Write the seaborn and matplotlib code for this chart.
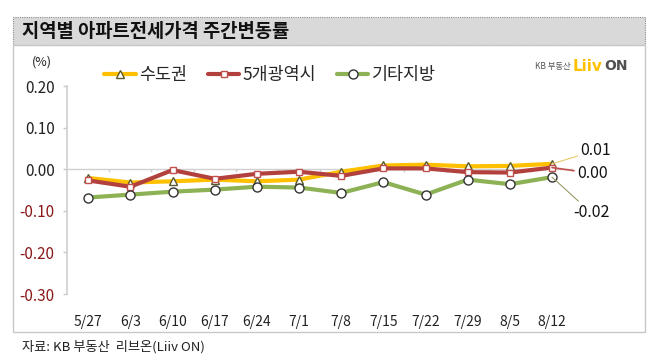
import matplotlib
matplotlib.use("Agg")
import matplotlib.pyplot as plt
from matplotlib.patches import Rectangle
import seaborn as sns
import pandas as pd

# 데이터
weeks = ["5/27", "6/3", "6/10", "6/17", "6/24", "7/1", "7/8", "7/15", "7/22", "7/29", "8/5", "8/12"]
capital = [-0.021, -0.032, -0.029, -0.025, -0.029, -0.025, -0.006, 0.009, 0.011, 0.007, 0.008, 0.013]
metro5 = [-0.027, -0.042, -0.002, -0.023, -0.011, -0.006, -0.016, 0.002, 0.002, -0.007, -0.008, 0.004]
others = [-0.068, -0.061, -0.054, -0.049, -0.042, -0.044, -0.057, -0.031, -0.061, -0.025, -0.036, -0.019]
series_names = ["수도권", "5개광역시", "기타지방"]
end_labels = ["0.01", "0.00", "-0.02"]
yticks = [0.20, 0.10, 0.00, -0.10, -0.20, -0.30]

sns.set_theme(style="white")
plt.rcParams["font.family"] = ["Noto Sans CJK KR", "DejaVu Sans"]

rows = []
for name, vals in zip(series_names, [capital, metro5, others]):
    for i, v in enumerate(vals):
        rows.append({"idx": i, "week": weeks[i], "series": name, "value": v})
df = pd.DataFrame(rows)

colors = {"수도권": "#FFC000", "5개광역시": "#B2413E", "기타지방": "#8DB255"}
markers = {"수도권": "^", "5개광역시": "s", "기타지방": "o"}
medges = {"수도권": "#5a5a2a", "5개광역시": "#C0504D", "기타지방": "#333333"}
msizes = {"수도권": 5.5, "5개광역시": 5, "기타지방": 6.5}

fig = plt.figure(figsize=(6.58, 3.63), dpi=100)

# 제목 바
fig.patches.append(Rectangle((0.02, 0.876), 0.96, 0.077, transform=fig.transFigure,
                             facecolor="#d9d9d9", edgecolor="#8c8c8c", lw=0.8,
                             linestyle=(0, (1, 1)), zorder=0))
fig.patches.append(Rectangle((0.02, 0.085), 0.96, 0.791, transform=fig.transFigure,
                             facecolor="none", edgecolor="#c8c8c8", lw=1, zorder=0))
fig.text(0.033, 0.914, "지역별 아파트전세가격 주간변동률", fontsize=13.5, fontweight="bold",
         va="center", ha="left", color="#111111")
fig.text(0.033, 0.044, "자료: KB 부동산  리브온(Liiv ON)", fontsize=9.5, va="center",
         ha="left", color="#222222")

ax = fig.add_axes([0.102, 0.190, 0.769, 0.573])

for name in series_names:
    sub = df[df["series"] == name]
    sns.lineplot(data=sub, x="idx", y="value", ax=ax, color=colors[name], lw=3,
                 marker=markers[name], markersize=msizes[name], markerfacecolor="white",
                 markeredgecolor=medges[name], markeredgewidth=1, label=name, zorder=3)

ax.set_xlim(-0.5, 11.5)
ax.set_ylim(-0.30, 0.20)
ax.set_yticks(yticks)
ax.set_yticklabels([f"{t:.2f}" for t in yticks], fontsize=11)
for lab, t in zip(ax.get_yticklabels(), yticks):
    lab.set_color("#8B1A1A" if t < 0 else "#222222")
ax.tick_params(axis="y", length=3, color="#c8c8c8", width=1, pad=6, left=True)
ax.set_xticks(range(len(weeks)))
ax.set_xticklabels(weeks, fontsize=10, color="#222222")
ax.tick_params(axis="x", length=0, pad=15)
ax.set_xlabel("")
ax.set_ylabel("")
for s in ["top", "right", "bottom"]:
    ax.spines[s].set_visible(False)
ax.spines["left"].set_color("#d0d0d0")
ax.axhline(0, color="#d0d0d0", lw=1, zorder=1)
ax.vlines([i + 0.5 for i in range(len(weeks))], -0.007, 0, color="#d0d0d0", lw=1, zorder=1)

# 끝 라벨
last = len(weeks) - 1
ax.annotate(end_labels[0], xy=(last, capital[-1]), xytext=(11.68, 0.045), fontsize=11.5,
            va="center", ha="left", color="#111111", annotation_clip=False,
            arrowprops=dict(arrowstyle="-", color="#E8C86A", lw=0.8, shrinkA=0, shrinkB=0))
ax.annotate(end_labels[1], xy=(last, metro5[-1]), xytext=(11.6, -0.010), fontsize=11.5,
            va="center", ha="left", color="#111111", annotation_clip=False,
            arrowprops=dict(arrowstyle="-", color="#C0504D", lw=1.2, shrinkA=0, shrinkB=0))
ax.annotate(end_labels[2], xy=(last, others[-1]), xytext=(11.5, -0.105), fontsize=11.5,
            va="center", ha="left", color="#111111", annotation_clip=False,
            arrowprops=dict(arrowstyle="-", color="#9a9a6a", lw=0.8, shrinkA=0, shrinkB=0))

fig.text(0.064, 0.829, "(%)", fontsize=9, ha="center", va="center", color="#222222")

leg = ax.legend(loc="center left", bbox_to_anchor=(0.135, 0.793), bbox_transform=fig.transFigure,
                ncol=3, frameon=False, fontsize=12.5, handlelength=1.8, handletextpad=0.2,
                columnspacing=1.2)

# 로고
fig.text(0.813, 0.818, "KB 부동산", fontsize=6, color="#555555", ha="left", va="center")
fig.text(0.870, 0.818, "Liiv", fontsize=11, fontweight="bold", color="#FFC000",
         ha="left", va="center", family=["DejaVu Sans"])
fig.text(0.918, 0.818, "ON", fontsize=10, fontweight="bold", color="#505050",
         ha="left", va="center", family=["DejaVu Sans"])

fig.savefig("out.png", dpi=100)
